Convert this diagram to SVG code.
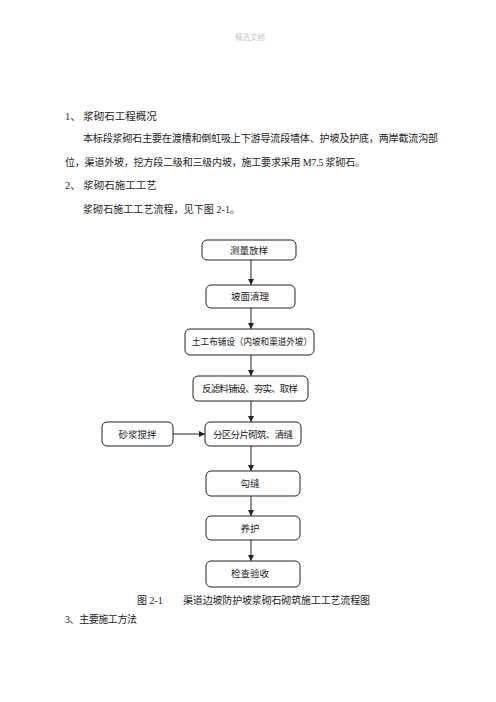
<svg xmlns="http://www.w3.org/2000/svg" width="496" height="702" viewBox="0 0 496 702">
<style>
.t{font-family:"Liberation Serif","Noto Sans CJK SC",serif;fill:#222;}
.p{font-size:10px;}
.h{font-size:10.5px;}
.b{font-size:9.5px;text-anchor:middle;}
.box{fill:#fff;stroke:#222;stroke-width:1;}
.ln{stroke:#222;stroke-width:1;fill:none;marker-end:url(#ah);}
</style>
<defs>
<marker id="ah" viewBox="0 0 8 8" refX="8" refY="4" markerWidth="6" markerHeight="6" markerUnits="userSpaceOnUse" orient="auto">
<path d="M0,0 L8,4 L0,8 z" fill="#222"/>
</marker>
</defs>
<rect width="496" height="702" fill="#fff"/>
<text x="250" y="40" class="t" style="font-size:7.5px;fill:#c8c8c8;text-anchor:middle">精选文档</text>
<g id="text">
<text x="65" y="120" class="t h">1、 浆砌石工程概况</text>
<text x="83" y="142" class="t p" textLength="355" lengthAdjust="spacing">本标段浆砌石主要在渡槽和倒虹吸上下游导流段墙体、护坡及护底，两岸截流沟部</text>
<text x="65" y="166" class="t p" textLength="300" lengthAdjust="spacing">位，渠道外坡，挖方段二级和三级内坡，施工要求采用 M7.5 浆砌石。</text>
<text x="65" y="189" class="t h">2、 浆砌石施工工艺</text>
<text x="83" y="213" class="t p" textLength="157" lengthAdjust="spacing">浆砌石施工工艺流程，见下图 2-1。</text>
<text x="137" y="604" class="t p">图 2-1</text>
<text x="183" y="604" class="t p" textLength="187" lengthAdjust="spacing">渠道边坡防护坡浆砌石砌筑施工工艺流程图</text>
<text x="65" y="623" class="t p" textLength="72" lengthAdjust="spacing">3、主要施工方法</text>
</g>
<g id="connectors">
<line x1="251" y1="260" x2="251" y2="285" class="ln"/>
<line x1="251" y1="308" x2="251" y2="329" class="ln"/>
<line x1="251" y1="355" x2="251" y2="376" class="ln"/>
<line x1="251" y1="401" x2="251" y2="422" class="ln"/>
<line x1="173" y1="434" x2="205" y2="434" class="ln"/>
<line x1="251" y1="446" x2="251" y2="471" class="ln"/>
<line x1="251" y1="496" x2="251" y2="516" class="ln"/>
<line x1="251" y1="540" x2="251" y2="561" class="ln"/>
</g>
<g id="n1"><rect x="202" y="240" width="94" height="20" rx="5" class="box"/><text x="249" y="253.5" class="t b">测量放样</text></g>
<g id="n2"><rect x="206" y="285" width="89" height="23" rx="5" class="box"/><text x="250" y="299.5" class="t b">坡面清理</text></g>
<g id="n3"><rect x="185" y="329" width="129" height="26" rx="5" class="box"/><text x="252" y="345" class="t b" textLength="120" lengthAdjust="spacingAndGlyphs">土工布铺设（内坡和渠道外坡）</text></g>
<g id="n4"><rect x="193" y="376" width="115" height="25" rx="5" class="box"/><text x="250" y="391.5" class="t b" textLength="96" lengthAdjust="spacing">反滤料铺设、夯实、取样</text></g>
<g id="n5"><rect x="205" y="422" width="96" height="24" rx="5" class="box"/><text x="253" y="437.5" class="t b" textLength="80" lengthAdjust="spacing">分区分片砌筑、清缝</text></g>
<g id="n0"><rect x="102" y="422" width="71" height="24" rx="5" class="box"/><text x="137.5" y="437.5" class="t b">砂浆搅拌</text></g>
<g id="n6"><rect x="206" y="471" width="94" height="25" rx="5" class="box"/><text x="250" y="486.5" class="t b">勾缝</text></g>
<g id="n7"><rect x="206" y="516" width="94" height="24" rx="5" class="box"/><text x="250" y="531.5" class="t b">养护</text></g>
<g id="n8"><rect x="206" y="561" width="94" height="26" rx="5" class="box"/><text x="250" y="577" class="t b">检查验收</text></g>
</svg>
